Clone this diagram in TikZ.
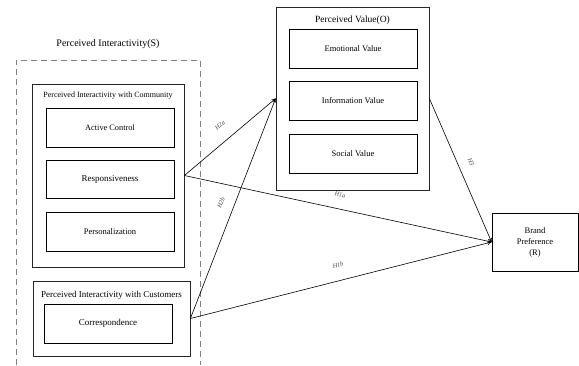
\documentclass[tikz,border=0pt]{standalone}
\usepackage{fontspec}
\setmainfont{Liberation Serif}
\usetikzlibrary{arrows.meta}
\begin{document}
\begin{tikzpicture}[x=1pt,y=-1pt,
  box/.style={draw=black, line width=0.8pt, inner sep=0pt, align=center},
  outer/.style={draw=black!85, line width=0.8pt, inner sep=0pt},
  grp/.style={font=\fontsize{8}{9}\selectfont, inner sep=0pt},
  hyp/.style={font=\fontsize{6.3}{7}\selectfont\itshape, text=black!75, inner sep=0pt},
  conn/.style={line width=0.6pt, -{To[length=4pt,width=4pt]}}
]
\useasboundingbox (0,0) rectangle (579,365);
% outer dashed group
\node[font=\fontsize{10}{12}\selectfont, inner sep=0pt] (title) at (108,44) {Perceived Interactivity(S)};
\draw[draw=black!50, line width=1pt, dash pattern=on 6pt off 4pt] (16,365) -- (16,60) -- (200,60) -- (200,365);
% community
\node[outer, minimum width=152pt, minimum height=183pt] (comm) at (108,175.5) {};
\node[grp] (commlab) at (108,96) {Perceived Interactivity with Community};
\node[box, minimum width=128pt, minimum height=39pt, font=\fontsize{8.3}{9}\selectfont] (act) at (110,127.5) {Active Control};
\node[box, minimum width=128pt, minimum height=38pt, font=\fontsize{9}{10}\selectfont] (resp) at (110,179) {Responsiveness};
\node[box, minimum width=128pt, minimum height=39pt, font=\fontsize{8.5}{9}\selectfont] (pers) at (110,231.5) {Personalization};
% customers
\node[outer, minimum width=157pt, minimum height=75pt] (cust) at (111.5,318.5) {};
\node[grp, font=\fontsize{9}{10}\selectfont] (custlab) at (111.5,295) {Perceived Interactivity with Customers};
\node[box, minimum width=128pt, minimum height=39pt, font=\fontsize{9}{10}\selectfont] (corr) at (108,323.5) {Correspondence};
% perceived value
\node[outer, minimum width=153pt, minimum height=183pt] (pv) at (352.5,98.5) {};
\node[inner sep=0pt, font=\fontsize{9.5}{11}\selectfont] (pvlab) at (352.5,20) {Perceived Value(O)};
\node[box, minimum width=128pt, minimum height=39pt, font=\fontsize{8.5}{9}\selectfont] (emo) at (353,48.5) {Emotional Value};
\node[box, minimum width=128pt, minimum height=39pt, font=\fontsize{8.5}{9}\selectfont] (info) at (353,100.5) {Information Value};
\node[box, minimum width=128pt, minimum height=39pt, font=\fontsize{8.5}{9}\selectfont] (soc) at (353,153.5) {Social Value};
% brand
\node[box, minimum width=86pt, minimum height=58pt, font=\fontsize{8.5}{11}\selectfont] (brand) at (535,242) {Brand\\Preference\\(R)};
% connectors
\draw[conn] (comm.east) -- (pv.west);
\draw[conn] (cust.east) -- (pv.west);
\draw[conn] (comm.east) -- (brand.west);
\draw[conn] (cust.east) -- (brand.west);
\draw[conn] (pv.east) -- (brand.west);
% hypothesis labels
\node[hyp, rotate=40] (h2a) at (220,125) {H2a};
\node[hyp, rotate=68] (h2b) at (221,203) {H2b};
\node[hyp, rotate=-12] (h1a) at (340,195) {H1a};
\node[hyp, rotate=14] (h1b) at (338,265) {H1b};
\node[hyp, rotate=-66] (h3) at (471,162) {H3};
\end{tikzpicture}
\end{document}
